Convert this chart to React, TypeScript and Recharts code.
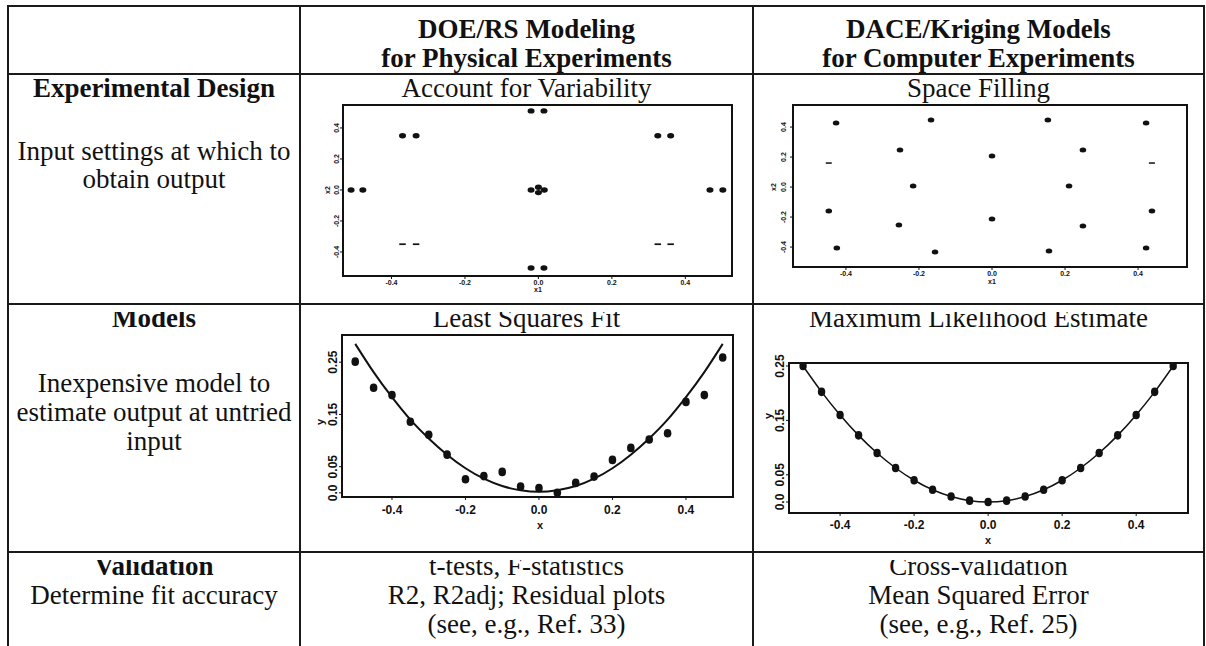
import React from 'react';
import { ScatterChart, Scatter, XAxis, YAxis, ReferenceArea } from 'recharts';

// ---------- DATA ----------
// Plot 1: DOE / Account for Variability (replicated central composite design)
const doeDotX1 = [-0.02, 0.015, -0.37, -0.333, 0.325, 0.36, -0.51, -0.478, -0.02, 0, 0, 0.016, 0.467, 0.502, -0.02, 0.015];
const doeDotX2 = [0.51, 0.51, 0.35, 0.35, 0.35, 0.35, 0, 0, 0, 0.017, -0.017, 0, 0, 0, -0.503, -0.503];
const doeDashX1 = [-0.37, -0.333, 0.325, 0.36];
const doeDashX2 = [-0.35, -0.35, -0.35, -0.35];

// Plot 2: DACE / Space Filling design
const sfDotX1 = [-0.427, -0.167, 0.153, 0.422, -0.252, 0, 0.249, -0.216, 0.211, -0.447, 0.438, -0.255, 0, 0.249, -0.425, -0.156, 0.156, 0.422];
const sfDotX2 = [0.427, 0.447, 0.447, 0.427, 0.247, 0.207, 0.247, 0.007, 0.007, -0.16, -0.16, -0.253, -0.213, -0.26, -0.407, -0.433, -0.427, -0.407];
const sfDashX1 = [-0.447, 0.438];
const sfDashX2 = [0.16, 0.16];

// Plots 3 & 4: x grid
const fitX = [-0.5, -0.45, -0.4, -0.35, -0.3, -0.25, -0.2, -0.15, -0.1, -0.05, 0, 0.05, 0.1, 0.15, 0.2, 0.25, 0.3, 0.35, 0.4, 0.45, 0.5];
// Least squares: noisy observations and fitted curve
const lsY = [0.251, 0.201, 0.187, 0.136, 0.111, 0.073, 0.026, 0.032, 0.04, 0.012, 0.009, 0.0, 0.019, 0.031, 0.063, 0.086, 0.102, 0.114, 0.174, 0.187, 0.259];
const lsCurveY = [0.285, 0.231, 0.183, 0.14, 0.104, 0.073, 0.047, 0.027, 0.013, 0.005, 0.002, 0.005, 0.013, 0.027, 0.047, 0.073, 0.104, 0.14, 0.183, 0.231, 0.285];
// Maximum likelihood (kriging): observations, interpolating curve passes through them
const mleY = [0.25, 0.2025, 0.16, 0.1225, 0.09, 0.0625, 0.04, 0.0225, 0.01, 0.0025, 0, 0.0025, 0.01, 0.0225, 0.04, 0.0625, 0.09, 0.1225, 0.16, 0.2025, 0.25];

// Ticks
const designTicks = [-0.4, -0.2, 0, 0.2, 0.4];
const designTickLabels = ['-0.4', '-0.2', '0.0', '0.2', '0.4'];
const fitXTicks = [-0.4, -0.2, 0, 0.2, 0.4];
const fitXTickLabels = ['-0.4', '-0.2', '0.0', '0.2', '0.4'];
const fitYTicks = [0, 0.05, 0.15, 0.25];
const fitYTickLabels = ['0.0', '0.05', '0.15', '0.25'];

const zip = (xs: number[], ys: number[]) => xs.map((x, i) => ({ x, y: ys[i] }));

const doeDots = zip(doeDotX1, doeDotX2);
const doeDashes = zip(doeDashX1, doeDashX2);
const sfDots = zip(sfDotX1, sfDotX2);
const sfDashes = zip(sfDashX1, sfDashX2);
const lsPoints = zip(fitX, lsY);
const lsCurve = zip(fitX, lsCurveY);
const mlePoints = zip(fitX, mleY);

// ---------- STYLE ----------
const SERIF = "'Liberation Serif', 'Times New Roman', Times, 'DejaVu Serif', serif";
const SANS = "'Liberation Sans', Arial, sans-serif";
const INK = '#111';

const dot = (rx: number, ry: number) => (p: any) =>
  p.cx == null ? <g /> : <ellipse cx={p.cx} cy={p.cy} rx={rx} ry={ry} fill={INK} />;
const dash = (w: number, h: number) => (p: any) =>
  p.cx == null ? <g /> : <rect x={p.cx - w / 2} y={p.cy - h / 2} width={w} height={h} fill={INK} />;
const none = () => <g />;

type Cfg = {
  L: number; T: number; W: number; H: number;
  xDomain: [number, number]; yDomain: [number, number];
  xTicks: number[]; xLabels: string[]; yTicks: number[]; yLabels: string[];
  font: number; xDy: number; yDx: number;
};

const M_LEFT = 45;
const M_TOP = 16;

function Plot({ cfg, children }: { cfg: Cfg; children: React.ReactNode }) {
  const width = cfg.W + 50;
  const height = cfg.H + M_TOP + 35;
  const bottom = M_TOP + cfg.H;
  const xTick = (props: any) => {
    const i = cfg.xTicks.indexOf(props.payload.value);
    return (
      <text x={props.x} y={bottom + cfg.xDy} textAnchor="middle" fontSize={cfg.font} fontWeight="bold" fontFamily={SANS} fill={INK}>
        {cfg.xLabels[i]}
      </text>
    );
  };
  const yTick = (props: any) => {
    const i = cfg.yTicks.indexOf(props.payload.value);
    const x = M_LEFT - cfg.yDx;
    return (
      <text x={x} y={props.y} transform={`rotate(-90, ${x}, ${props.y})`} textAnchor="middle" fontSize={cfg.font} fontWeight="bold" fontFamily={SANS} fill={INK}>
        {cfg.yLabels[i]}
      </text>
    );
  };
  return (
    <div style={{ position: 'absolute', left: cfg.L - M_LEFT, top: cfg.T - M_TOP }}>
      <ScatterChart width={width} height={height} margin={{ top: M_TOP, right: 5, bottom: 0, left: 0 }}>
        <XAxis type="number" dataKey="x" domain={cfg.xDomain} ticks={cfg.xTicks} interval={0} allowDataOverflow
          axisLine={false} tickLine={{ stroke: INK }} tickSize={3} height={35} tick={xTick} />
        <YAxis type="number" dataKey="y" domain={cfg.yDomain} ticks={cfg.yTicks} interval={0} allowDataOverflow
          axisLine={false} tickLine={{ stroke: INK }} tickSize={3} width={M_LEFT} tick={yTick} />
        <ReferenceArea x1={cfg.xDomain[0]} x2={cfg.xDomain[1]} y1={cfg.yDomain[0]} y2={cfg.yDomain[1]}
          fill="none" fillOpacity={0} stroke={INK} strokeWidth={2} ifOverflow="visible" />
        {children}
      </ScatterChart>
    </div>
  );
}

const p1: Cfg = { L: 343, T: 105, W: 389, H: 171, xDomain: [-0.532, 0.527], yDomain: [-0.555, 0.548],
  xTicks: designTicks, xLabels: designTickLabels, yTicks: designTicks, yLabels: designTickLabels, font: 7, xDy: 9, yDx: 4 };
const p2: Cfg = { L: 793, T: 105, W: 394, H: 162, xDomain: [-0.545, 0.534], yDomain: [-0.533, 0.547],
  xTicks: designTicks, xLabels: designTickLabels, yTicks: designTicks, yLabels: designTickLabels, font: 7, xDy: 9, yDx: 7 };
const p3: Cfg = { L: 342, T: 335, W: 391, H: 162, xDomain: [-0.536, 0.528], yDomain: [-0.008, 0.302],
  xTicks: fitXTicks, xLabels: fitXTickLabels, yTicks: fitYTicks, yLabels: fitYTickLabels, font: 12, xDy: 17, yDx: 5 };
const p4: Cfg = { L: 789, T: 363, W: 399, H: 150, xDomain: [-0.538, 0.54], yDomain: [-0.0202, 0.2555],
  xTicks: fitXTicks, xLabels: fitXTickLabels, yTicks: fitYTicks, yLabels: fitYTickLabels, font: 12, xDy: 16, yDx: 5 };

function T({ x, y, bold, children }: { x: number; y: number; bold?: boolean; children: React.ReactNode }) {
  return (
    <text x={x} y={y} textAnchor="middle" style={{ fontFamily: SERIF }} fontSize={27} fontWeight={bold ? 'bold' : 'normal'} fill={INK}>
      {children}
    </text>
  );
}

function Table() {
  const hs = [6, 74, 304, 552];
  const vs = [8, 300, 753, 1204];
  const c1 = 154, c2 = 526.5, c3 = 978.5;
  return (
    <svg width={1206} height={646} style={{ position: 'absolute', left: 0, top: 0 }}>
      <defs>
        <clipPath id="row2clip"><rect x={0} y={312} width={1206} height={40} /></clipPath>
        <clipPath id="row3clip"><rect x={0} y={560} width={1206} height={40} /></clipPath>
      </defs>
      {hs.map((y) => <line key={'h' + y} x1={7} x2={1205} y1={y} y2={y} stroke="#1a1a1a" strokeWidth={2} />)}
      {vs.map((x) => <line key={'v' + x} x1={x} x2={x} y1={5} y2={646} stroke="#1a1a1a" strokeWidth={2} />)}

      <T x={c2} y={38} bold>DOE/RS Modeling</T>
      <T x={c2} y={67} bold>for Physical Experiments</T>
      <T x={c3} y={38} bold>DACE/Kriging Models</T>
      <T x={c3} y={67} bold>for Computer Experiments</T>

      <T x={c1} y={97} bold>Experimental Design</T>
      <T x={c1} y={160}>Input settings at which to</T>
      <T x={c1} y={188}>obtain output</T>
      <T x={c2} y={97}>Account for Variability</T>
      <T x={c3} y={97}>Space Filling</T>

      <g clipPath="url(#row2clip)">
        <T x={c1} y={327} bold>Models</T>
        <T x={c2} y={327}>Least Squares Fit</T>
        <T x={c3} y={327}>Maximum Likelihood Estimate</T>
      </g>
      <T x={c1} y={392}>Inexpensive model to</T>
      <T x={c1} y={421}>estimate output at untried</T>
      <T x={c1} y={450}>input</T>

      <g clipPath="url(#row3clip)">
        <T x={c1} y={575} bold>Validation</T>
        <T x={c2} y={575}>t-tests, F-statistics</T>
        <T x={c3} y={575}>Cross-validation</T>
      </g>
      <T x={c1} y={604}>Determine fit accuracy</T>
      <T x={c2} y={604}>R2, R2adj; Residual plots</T>
      <T x={c2} y={633}>(see, e.g., Ref. 33)</T>
      <T x={c3} y={604}>Mean Squared Error</T>
      <T x={c3} y={633}>(see, e.g., Ref. 25)</T>

      {/* axis titles */}
      <text x={538} y={292} textAnchor="middle" fontFamily={SANS} fontWeight="bold" fontSize={7} fill={INK}>x1</text>
      <text x={330} y={190} transform="rotate(-90, 330, 190)" textAnchor="middle" fontFamily={SANS} fontWeight="bold" fontSize={7} fill={INK}>x2</text>
      <text x={992} y={284} textAnchor="middle" fontFamily={SANS} fontWeight="bold" fontSize={7} fill={INK}>x1</text>
      <text x={776} y={187} transform="rotate(-90, 776, 187)" textAnchor="middle" fontFamily={SANS} fontWeight="bold" fontSize={7} fill={INK}>x2</text>
      <text x={540} y={529} textAnchor="middle" fontFamily={SANS} fontWeight="bold" fontSize={11} fill={INK}>x</text>
      <text x={324} y={422} transform="rotate(-90, 324, 422)" textAnchor="middle" fontFamily={SANS} fontWeight="bold" fontSize={11} fill={INK}>y</text>
      <text x={988} y={544} textAnchor="middle" fontFamily={SANS} fontWeight="bold" fontSize={11} fill={INK}>x</text>
      <text x={772} y={416} transform="rotate(-90, 772, 416)" textAnchor="middle" fontFamily={SANS} fontWeight="bold" fontSize={11} fill={INK}>y</text>
    </svg>
  );
}

export default function App() {
  return (
    <div style={{ position: 'absolute', left: 0, top: 0, width: 1206, height: 646, background: '#fff', overflow: 'hidden' }}>
      <Table />
      <Plot cfg={p1}>
        <Scatter data={doeDots} shape={dot(3.5, 2.7)} isAnimationActive={false} />
        <Scatter data={doeDashes} shape={dash(6.5, 1.7)} isAnimationActive={false} />
      </Plot>
      <Plot cfg={p2}>
        <Scatter data={sfDots} shape={dot(3.3, 2.5)} isAnimationActive={false} />
        <Scatter data={sfDashes} shape={dash(6, 1.5)} isAnimationActive={false} />
      </Plot>
      <Plot cfg={p3}>
        <Scatter data={lsCurve} line={{ stroke: INK, strokeWidth: 2 }} lineJointType="monotoneX" shape={none} isAnimationActive={false} />
        <Scatter data={lsPoints} shape={dot(3.8, 4.3)} isAnimationActive={false} />
      </Plot>
      <Plot cfg={p4}>
        <Scatter data={mlePoints} line={{ stroke: INK, strokeWidth: 1.5 }} lineJointType="monotoneX" shape={dot(3.7, 4.3)} isAnimationActive={false} />
      </Plot>
    </div>
  );
}
